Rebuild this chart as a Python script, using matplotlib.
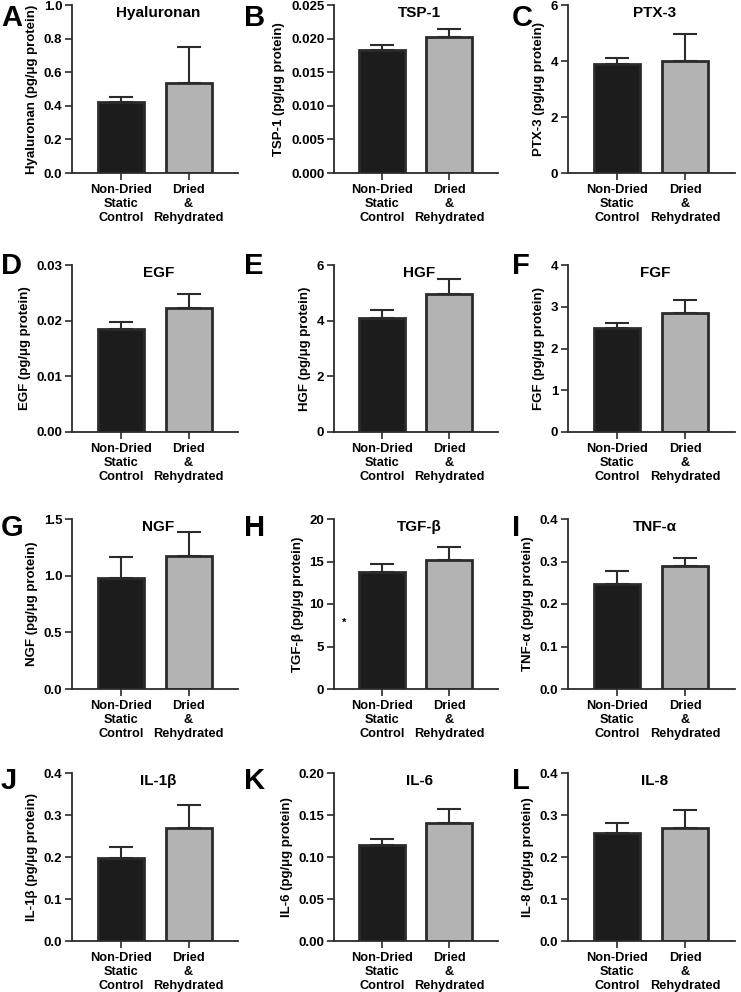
import numpy as np
from matplotlib import pyplot as plt
from matplotlib.ticker import FormatStrFormatter

plt.rcParams['font.family'] = ['Liberation Sans', 'DejaVu Sans']
plt.rcParams['font.weight'] = 'bold'

c_dark = "#1c1c1c"
c_grey = "#b3b3b3"
c_line = "#2b2b2b"

letters = ["A", "B", "C", "D", "E", "F", "G", "H", "I", "J", "K", "L"]
analytes = ["Hyaluronan", "TSP-1", "PTX-3", "EGF", "HGF", "FGF",
            "NGF", "TGF-β", "TNF-α", "IL-1β", "IL-6", "IL-8"]
groups = ["Non-Dried\nStatic\nControl", "Dried\n&\nRehydrated"]

control_mean = [0.425, 0.0183, 3.91, 0.0185, 4.10, 2.50, 0.982, 13.8, 0.248, 0.197, 0.114, 0.257]
control_err = [0.027, 0.0007, 0.19, 0.0012, 0.30, 0.10, 0.180, 0.9, 0.030, 0.026, 0.0075, 0.025]
dried_mean = [0.537, 0.0203, 4.00, 0.0223, 4.95, 2.85, 1.175, 15.2, 0.289, 0.269, 0.140, 0.268]
dried_err = [0.215, 0.0012, 0.95, 0.0025, 0.55, 0.30, 0.210, 1.55, 0.020, 0.056, 0.017, 0.043]

y_max = [1.0, 0.025, 6, 0.03, 6, 4, 1.5, 20, 0.4, 0.4, 0.20, 0.4]
y_step = [0.2, 0.005, 2, 0.01, 2, 1, 0.5, 5, 0.1, 0.1, 0.05, 0.1]
y_fmt = ["%.1f", "%.3f", "%d", "%.2f", "%d", "%d", "%.1f", "%d", "%.1f", "%.1f", "%.2f", "%.1f"]

W, H = 741, 992
fig = plt.figure(figsize=(W / 100, H / 100), dpi=100)

row_top = [5, 265, 519, 773]
row_bot = [173, 432, 689, 941]
col_left = [72, 334, 568]
col_right = [238, 498, 735]
letter_x = [1, 244, 512]
letter_top = [4, 252, 514, 767]

for i in range(12):
    r, c = divmod(i, 3)
    ax = fig.add_axes([col_left[c] / W, 1 - row_bot[r] / H,
                       (col_right[c] - col_left[c]) / W, (row_bot[r] - row_top[r]) / H])
    x = np.arange(2)
    means = [control_mean[i], dried_mean[i]]
    errs = [control_err[i], dried_err[i]]
    ax.errorbar(x, means, yerr=[[0, 0], errs], fmt="none", ecolor=c_line,
                elinewidth=1.5, capsize=8.5, capthick=1.5, zorder=1)
    ax.bar(x, means, width=0.68, color=[c_dark, c_grey], edgecolor=c_line,
           linewidth=2, zorder=2)
    ax.set_xlim(-0.72, 1.73)
    ax.set_ylim(0, y_max[i])
    ax.set_yticks(np.arange(0, y_max[i] + y_step[i] / 2, y_step[i]))
    ax.yaxis.set_major_formatter(FormatStrFormatter(y_fmt[i]))
    ax.set_xticks(x)
    ax.set_xticklabels(groups, fontsize=9.2, fontweight="bold", linespacing=1.2)
    ax.tick_params(axis="y", labelsize=9.5, length=5, width=1.2, color=c_line, pad=2)
    ax.tick_params(axis="x", length=5, width=1.2, color=c_line, pad=3)
    for s in ["top", "right"]:
        ax.spines[s].set_visible(False)
    for s in ["left", "bottom"]:
        ax.spines[s].set_linewidth(1.3)
        ax.spines[s].set_color(c_line)
    ax.set_ylabel(analytes[i] + " (pg/μg protein)", fontsize=9.5, fontweight="bold", labelpad=4)
    ax.text(0.52, 0.995, analytes[i], transform=ax.transAxes, ha="center", va="top",
            fontsize=11, fontweight="bold")
    if analytes[i] == "TGF-β":
        ax.text(-0.57, 7.8, "*", ha="center", va="center", fontsize=8)
    fig.text(letter_x[c] / W, 1 - letter_top[r] / H, letters[i], ha="left", va="top",
             fontsize=21, fontweight="bold")

plt.savefig("out.png", dpi=100)
